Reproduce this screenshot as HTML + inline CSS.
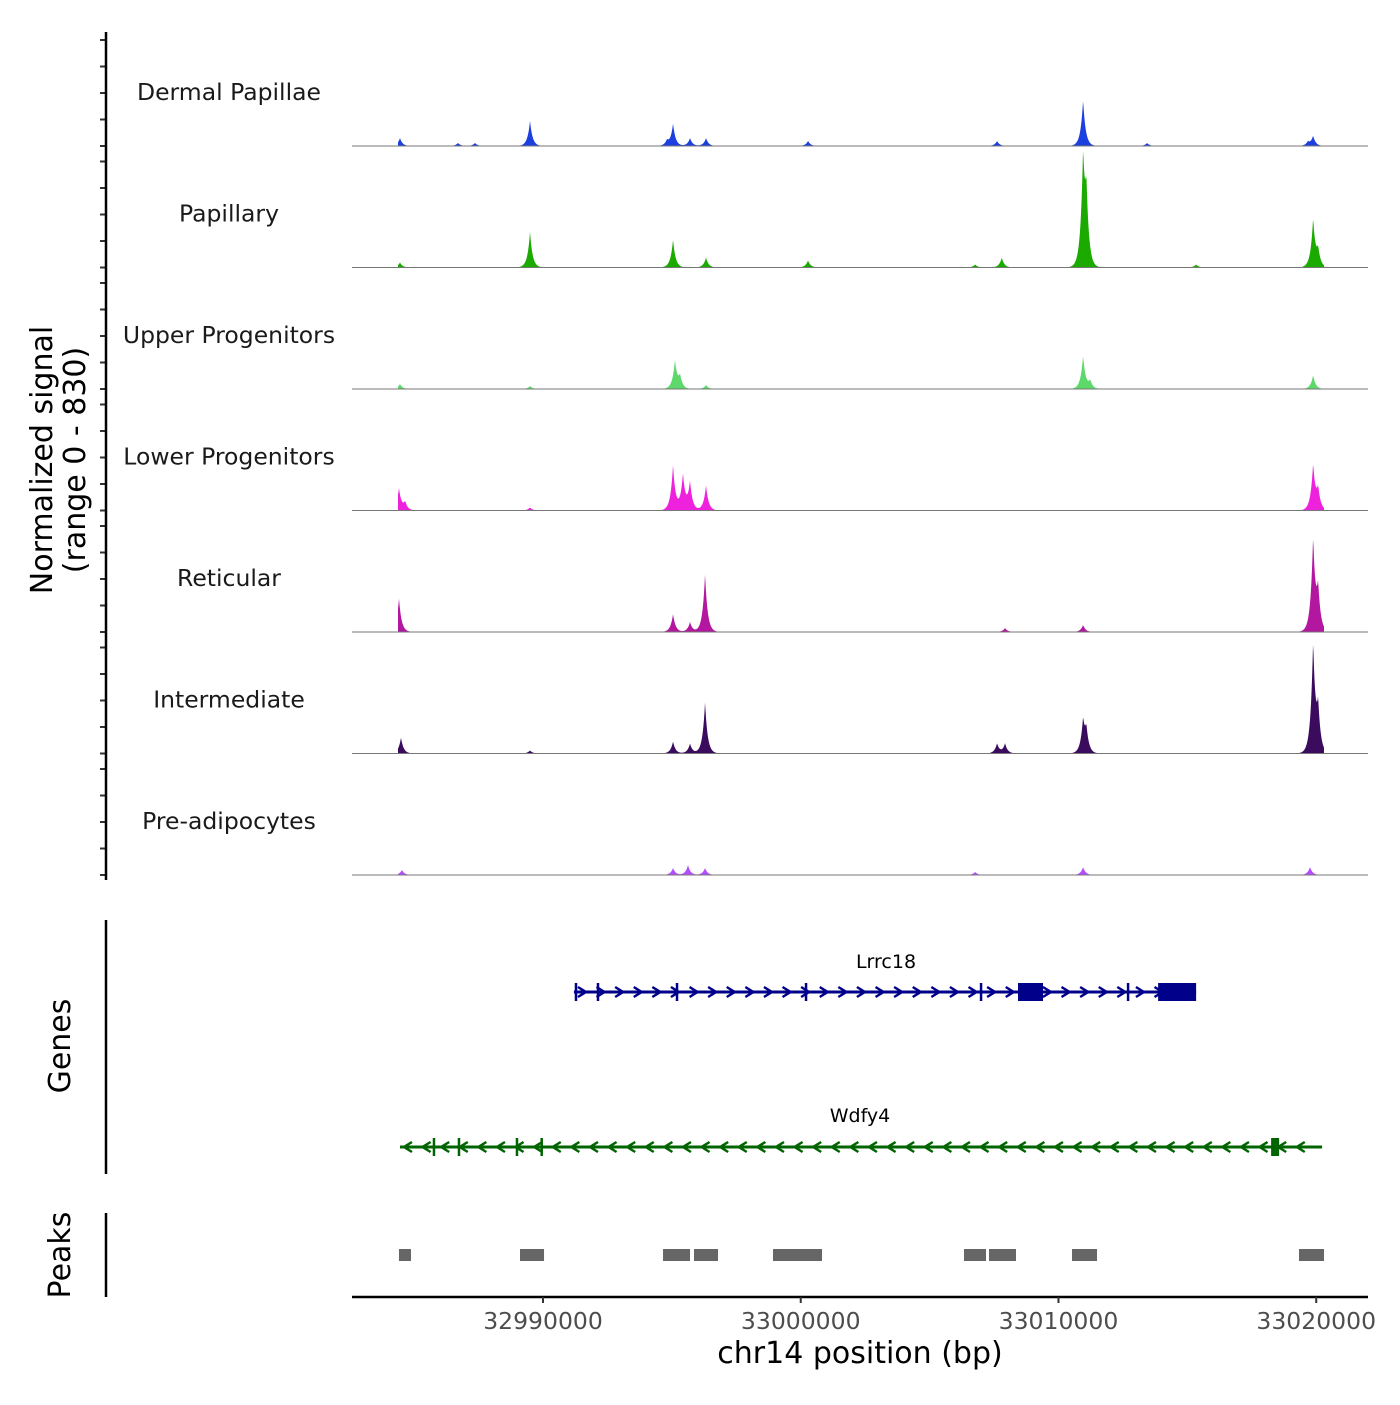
<!DOCTYPE html>
<html><head><meta charset="utf-8"><style>
body{margin:0;background:#fff}
svg text{font-family:"DejaVu Sans","Liberation Sans",sans-serif}
</style></head><body>
<svg id="c" width="1400" height="1400" xmlns="http://www.w3.org/2000/svg"></svg>
<script>
const trackNames=["Dermal Papillae","Papillary","Upper Progenitors","Lower Progenitors","Reticular","Intermediate","Pre-adipocytes"];
const trackColors=["#1c3fe0","#1aaa00","#5cd96a","#ee22dd","#b3169f","#3b0b5e","#b34dff"];
const peakPos0=[32984451,32986702,32987361,32989496,32994812,32995045,32995704,32996325,33000283,33007617,33010955,33013439,33019680,33019880];
const peakVal0=[60,23,23,190,38,166,60,60,38,38,350,23,30,75];
const peakPos1=[32984451,32989496,32995045,32996325,33000283,33006764,33007800,33010955,33011080,33015340,33019880,33020073];
const peakVal1=[38,270,210,75,53,23,75,770,500,23,360,120];
const peakPos2=[32984451,32989496,32995120,32995316,32996325,33010955,33011230,33019880];
const peakVal2=[38,23,210,90,30,250,60,105];
const peakPos3=[32984412,32984650,32995045,32995430,32995704,32996325,32989496,33019880,33020073];
const peakVal3=[166,60,340,265,210,190,23,340,150];
const peakPos4=[32984412,32995045,32995704,32996287,33007927,33010955,33019880,33020073];
const peakVal4=[255,135,75,440,30,53,690,300];
const peakPos5=[32984490,32989496,32995045,32995704,32996287,33007617,33007927,33010955,33011080,33019880,33020073];
const peakVal5=[120,23,90,75,390,75,75,235,165,815,320];
const peakPos6=[32984528,32995045,32995626,32996287,33006764,33010955,33019760];
const peakVal6=[38,53,75,53,23,60,60];
const peakPositions=[peakPos0,peakPos1,peakPos2,peakPos3,peakPos4,peakPos5,peakPos6];
const peakValues=[peakVal0,peakVal1,peakVal2,peakVal3,peakVal4,peakVal5,peakVal6];
const xTicks=[32990000,33000000,33010000,33020000];
const yTickVals=[0,200,400,600,800];
const peakStart=[32984412,32989108,32994657,32995859,32998924,33006334,33007304,33010525,33019332];
const peakEnd=[32984878,32990040,32995704,32996790,33000825,33007188,33008352,33011495,33020302];
const lrrcExonStart=[33008430,33013866];const lrrcExonEnd=[33009400,33015340];
const lrrcTicks=[32991280,32992133,32995200,33000206,33006996,33012700];
const wdfyTicks=[32985770,32986740,32988990,32989950];
const wdfyExonStart=[33018250];const wdfyExonEnd=[33018560];

const NS="http://www.w3.org/2000/svg",svg=document.getElementById('c');
function X(bp){return 543+(bp-32990000)*0.025774;}
const yScale=0.1325;
function el(t,a,p){const e=document.createElementNS(NS,t);for(const k in a)e.setAttribute(k,a[k]);(p||svg).appendChild(e);return e;}
function txt(s,a,p){const e=el('text',a,p);e.textContent=s;return e;}
const bases=[146,267.5,389,510.5,632,753.5,875];
const sigma=130;
trackNames.forEach((n,i)=>{
  const g=el('g',{});
  
  
  const b=bases[i];
  let d='M398,'+b;
  for(let px=398;px<=1324;px+=0.5){
    const bp=32990000+(px-543)/0.025774;let v=0;
    peakPositions[i].forEach((c,j)=>{const z=(bp-c)/sigma;v+=peakValues[i][j]*Math.exp(-Math.abs(z)*1.3);});
    d+=' L'+px+','+(b-v*yScale).toFixed(2);
  }
  d+=' L1324,'+b+' Z';
  const p=el('path',{d:d,fill:trackColors[i]},g);
  
  
  const l=el('line',{x1:352,x2:1368,y1:b,y2:b,stroke:'#777','stroke-width':1},g);
  
  
  const t=txt(n,{x:229,y:b-46,'text-anchor':'middle','font-size':23.5,fill:'#1a1a1a'},g);
  
  
  yTickVals.forEach(v=>{const y=b-v*yScale;const tk=el('line',{x1:100,x2:106,y1:y,y2:y,stroke:'#333','stroke-width':2},g);
    
    });
});
const ax=el('line',{x1:106,x2:106,y1:32,y2:880,stroke:'#000','stroke-width':2.5});

const yt=txt('',{transform:'translate(52,460) rotate(-90)','text-anchor':'middle','font-size':30,fill:'#000'});

el('tspan',{x:0,dy:0},yt).textContent='Normalized signal';
el('tspan',{x:0,dy:33},yt).textContent='(range 0 - 830)';
const ga=el('line',{x1:106,x2:106,y1:920,y2:1174,stroke:'#000','stroke-width':2.5});

const gt=txt('Genes',{transform:'translate(70,1046) rotate(-90)','text-anchor':'middle','font-size':30});

function gene(name,x1,x2,y,col,dir,ticks,es,ee,lx,ly){
  const g=el('g',{});
  
  
  el('line',{x1:X(x1),x2:X(x2),y1:y,y2:y,stroke:col,'stroke-width':3},g);
  for(let px=X(x1)+8;px<X(x2)-4;px+=18.6){
    const dx=dir*4;
    el('path',{d:`M${px-dx},${y-5} L${px+dx},${y} L${px-dx},${y+5}`,fill:'none',stroke:col,'stroke-width':2.5},g);
  }
  ticks.forEach(t=>el('line',{x1:X(t),x2:X(t),y1:y-9,y2:y+9,stroke:col,'stroke-width':2.5},g));
  es.forEach((s,k)=>el('rect',{x:X(s),y:y-9,width:X(ee[k])-X(s),height:18,fill:col},g));
  txt(name,{x:lx,y:ly,'text-anchor':'middle','font-size':19,fill:'#000'},g);
}
gene('Lrrc18',32991200,33015340,992,'#00008b',1,lrrcTicks,lrrcExonStart,lrrcExonEnd,886,968);
gene('Wdfy4',32984451,33020228,1147,'#006400',-1,wdfyTicks,wdfyExonStart,wdfyExonEnd,860,1122);
const pa=el('line',{x1:106,x2:106,y1:1213,y2:1297,stroke:'#000','stroke-width':2.5});

const pt=txt('Peaks',{transform:'translate(70,1255) rotate(-90)','text-anchor':'middle','font-size':30});

peakStart.forEach((s,k)=>{const r=el('rect',{x:X(s),y:1249,width:X(peakEnd[k])-X(s),height:12,fill:'#666'});
  
  });
const xa=el('line',{x1:352,x2:1368,y1:1297,y2:1297,stroke:'#000','stroke-width':2.5});

xTicks.forEach(v=>{const tk=el('line',{x1:X(v),x2:X(v),y1:1297,y2:1303,stroke:'#333','stroke-width':2});
  
  const t=txt(String(v),{x:X(v),y:1329,'text-anchor':'middle','font-size':23.5,fill:'#4d4d4d'});
  });
const xt=txt('chr14 position (bp)',{x:860,y:1363,'text-anchor':'middle','font-size':30});

</script>
</body></html>
